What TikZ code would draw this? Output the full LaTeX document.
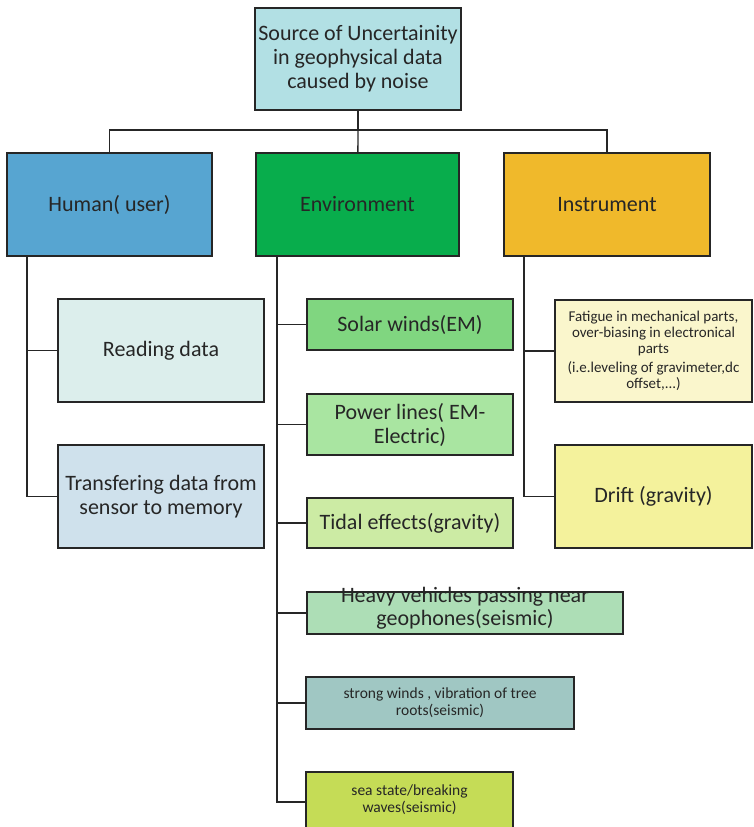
\documentclass[tikz,border=0pt]{standalone}
\usepackage{fontspec}
\setmainfont{Carlito}
\usepackage{xcolor}
\usetikzlibrary{positioning,calc}

\definecolor{rootc}{HTML}{B2E0E4}
\definecolor{humanc}{HTML}{57A5D1}
\definecolor{envc}{HTML}{08AD4C}
\definecolor{instrc}{HTML}{F0B92B}
\definecolor{readc}{HTML}{DCEEEC}
\definecolor{transc}{HTML}{CFE1EC}
\definecolor{solarc}{HTML}{80D680}
\definecolor{powerc}{HTML}{A9E5A1}
\definecolor{tidalc}{HTML}{CCEBA4}
\definecolor{heavyc}{HTML}{ADDEB6}
\definecolor{windc}{HTML}{A0C7C3}
\definecolor{seac}{HTML}{C5DC56}
\definecolor{fatc}{HTML}{FAF6CC}
\definecolor{driftc}{HTML}{F4F29C}

\begin{document}
\begin{tikzpicture}[x=1pt,y=-1pt,
  txt/.style={align=center,text=black!85},
  big/.style={font=\fontsize{22}{24}\selectfont},
  small/.style={font=\fontsize{15.5}{17}\selectfont},
  box/.style={draw=black!85,line width=1.6pt,txt,big,inner sep=2pt},
  link/.style={draw=black!85,line width=1.3pt}]
  \useasboundingbox (0,0) rectangle (754,827);

  % top level
  \node[box,fill=rootc,minimum width=206,minimum height=102] (root) at (358,59)
    {Source of Uncertainity\\in geophysical data\\caused by noise};
  \node[box,fill=humanc,minimum width=205,minimum height=103] (human) at (109.5,204.5) {Human( user)};
  \node[box,fill=envc,minimum width=203,minimum height=103] (env) at (357.5,204.5) {Environment};
  \node[box,fill=instrc,minimum width=206,minimum height=103] (instr) at (607,204.5) {Instrument};

  % human branch
  \node[box,fill=readc,minimum width=206,minimum height=103] (read) at (161,350.5) {Reading data};
  \node[box,fill=transc,minimum width=206,minimum height=103] (trans) at (161,496.5)
    {Transfering data from\\sensor to memory};

  % environment branch
  \node[box,fill=solarc,minimum width=206,minimum height=51] (solar) at (410,324.5) {Solar winds(EM)};
  \node[box,fill=powerc,minimum width=206,minimum height=61] (power) at (410,424.5) {Power lines( EM-\\Electric)};
  \node[box,fill=tidalc,minimum width=206,minimum height=50] (tidal) at (410,523) {Tidal effects(gravity)};
  \node[box,fill=heavyc,minimum width=316,minimum height=42,
    label={[txt,font=\fontsize{22}{23}\selectfont,yshift=5pt]center:{Heavy vehicles passing near\\geophones(seismic)}}]
    (heavy) at (465,613) {};
  \node[box,small,fill=windc,minimum width=268,minimum height=52] (wind) at (440,703)
    {strong winds , vibration of tree\\roots(seismic)};
  \node[box,fill=seac,minimum width=207,minimum height=60,
    label={[txt,small,yshift=2pt]center:{sea state/breaking\\waves(seismic)}}]
    (sea) at (409.5,802) {};

  % instrument branch
  \node[box,fill=fatc,minimum width=197,minimum height=102,font=\fontsize{15}{16}\selectfont] (fat) at (653.5,351)
    {Fatigue in mechanical parts,\\over-biasing in electronical\\parts\\[3pt](i.e.leveling of gravimeter,dc\\offset,...)};
  \node[box,fill=driftc,minimum width=197,minimum height=103] (drift) at (653.5,496.5) {Drift (gravity)};

  % connectors
  \coordinate (hub) at (358,130);
  \draw[link] (root) -- (hub);
  \draw[link] (hub) -| (human);
  \draw[link] (hub) -| (instr);
  \draw[link] (hub) -- (env);

  \coordinate (hstem) at (27,256);
  \coordinate (estem) at (277,256);
  \coordinate (istem) at (524,256);
  \foreach \n in {read,trans} \draw[link] (hstem) |- (\n.west);
  \foreach \n in {solar,power,tidal,heavy,wind,sea} \draw[link] (estem) |- (\n.west);
  \foreach \n in {fat,drift} \draw[link] (istem) |- (\n.west);
\end{tikzpicture}
\end{document}
